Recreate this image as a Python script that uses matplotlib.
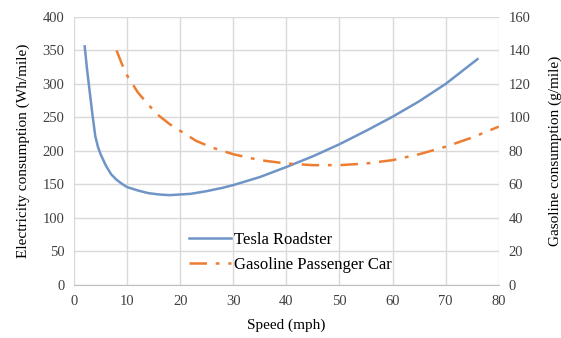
import matplotlib.pyplot as plt

plt.rcParams['font.family'] = ['Liberation Serif', 'DejaVu Serif']

# Tesla Roadster electricity consumption (Wh/mile) vs speed (mph)
tesla_speed = [2, 2.5, 3, 3.5, 4, 4.5, 5, 6, 7, 8, 9, 10, 12, 14, 16, 18, 20, 22,
               25, 28, 30, 35, 40, 45, 50, 55, 60, 65, 70, 76]
tesla_wh = [356, 318, 285, 252, 222, 206, 195, 178, 165, 157, 151, 146, 141, 137,
            135, 134, 135, 136, 140, 145, 149, 161, 176, 192, 210, 230, 251, 274, 300, 337]

# Gasoline passenger car consumption (g/mile) vs speed (mph)
gas_speed = [8, 9, 10, 12, 14, 16, 18, 20, 23, 26, 30, 35, 40, 45, 50, 55, 60, 65, 70, 75, 80]
gas_g = [140, 132, 125, 115, 107.5, 101, 96, 92, 86, 82, 78, 74.5, 72.5, 71.5, 71.5,
         72.5, 74.5, 78, 82.5, 88, 94.5]

fig = plt.figure(figsize=(5.61, 3.38), dpi=100)
ax = fig.add_axes([0.132, 0.157, 0.757, 0.793])
ax2 = ax.twinx()

l1, = ax.plot(tesla_speed, tesla_wh, color='#6f94c6', lw=1.8, label='Tesla Roadster')
l2, = ax2.plot(gas_speed, gas_g, color='#ed7d31', lw=1.8,
               linestyle=(0, (7, 3.5, 1.5, 3.5)), label='Gasoline Passenger Car')

ax.set_xlim(0, 80)
ax.set_ylim(0, 400)
ax2.set_ylim(0, 160)
ax.set_xticks(range(0, 81, 10))
ax.set_yticks(range(0, 401, 50))
ax2.set_yticks(range(0, 161, 20))

ax.grid(True, color='#d9d9d9', lw=1)
ax.set_axisbelow(True)
for a in (ax, ax2):
    for s in a.spines.values():
        s.set_visible(False)
    a.tick_params(length=0, labelsize=10.5, colors='#404040', pad=7)
ax.spines['bottom'].set_visible(True)
ax.spines['bottom'].set_color('#bfbfbf')

ax.set_xlabel('Speed (mph)', fontsize=11, labelpad=8)
ax.set_ylabel('Electricity consumption (Wh/mile)', fontsize=11, labelpad=9)
ax2.set_ylabel('Gasoline consumption (g/mile)', fontsize=11, labelpad=13)

ax.legend(handles=[l1, l2], loc='upper left', bbox_to_anchor=(0.235, 0.255),
          frameon=False, fontsize=12, handlelength=2.5, handletextpad=0.2,
          labelspacing=0.55)

fig.savefig('out.png', dpi=100)
